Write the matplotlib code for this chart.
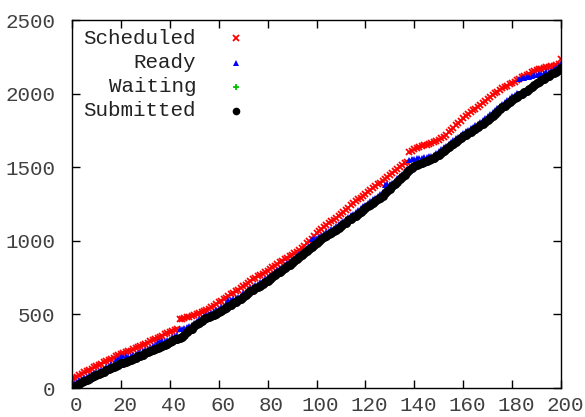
import matplotlib
matplotlib.use("Agg")
import matplotlib.pyplot as plt
from matplotlib.transforms import ScaledTranslation

# job index 0..200
jobs = list(range(201))

submitted = [
    0, 8, 18, 30, 40, 48, 55, 62, 72, 82, 90,
    96, 102, 110, 120, 130, 138, 144, 150, 158, 167,
    172, 176, 182, 190, 198, 206, 214, 220, 226, 235,
    242, 250, 258, 266, 272, 278, 284, 292, 302, 313,
    322, 330, 336, 340, 346, 360, 378, 392, 404, 420,
    432, 444, 456, 466, 474, 482, 490, 498, 506, 516,
    526, 536, 546, 556, 566, 576, 586, 596, 606, 620,
    632, 644, 656, 666, 676, 686, 696, 706, 718, 730,
    742, 754, 766, 778, 790, 802, 814, 826, 838, 850,
    862, 876, 890, 904, 918, 930, 944, 958, 972, 988,
    1000, 1012, 1024, 1034, 1044, 1054, 1064, 1076, 1088, 1100,
    1112, 1124, 1138, 1150, 1160, 1170, 1182, 1196, 1210, 1222,
    1234, 1246, 1258, 1270, 1282, 1294, 1306, 1322, 1338, 1354,
    1370, 1386, 1402, 1418, 1434, 1450, 1466, 1482, 1496, 1508,
    1516, 1522, 1528, 1534, 1540, 1546, 1554, 1562, 1574, 1586,
    1598, 1610, 1622, 1634, 1648, 1660, 1672, 1684, 1696, 1709,
    1720, 1730, 1740, 1750, 1760, 1772, 1784, 1796, 1808, 1822,
    1836, 1850, 1864, 1878, 1892, 1906, 1918, 1930, 1944, 1957,
    1968, 1980, 1990, 2000, 2010, 2020, 2030, 2042, 2056, 2070,
    2080, 2090, 2100, 2110, 2120, 2130, 2140, 2150, 2162, 2175,
]

waiting = [
    8, 16, 27, 39, 49, 57, 64, 71, 81, 91, 99,
    105, 111, 120, 130, 140, 147, 153, 160, 168, 177,
    181, 186, 192, 200, 208, 216, 223, 229, 236, 245,
    252, 260, 268, 276, 282, 288, 294, 302, 312, 323,
    332, 340, 346, 352, 360, 372, 388, 402, 414, 430,
    442, 454, 466, 476, 484, 492, 500, 508, 516, 526,
    536, 546, 556, 566, 576, 586, 596, 606, 616, 630,
    642, 654, 666, 676, 686, 696, 706, 716, 728, 740,
    752, 764, 776, 788, 800, 812, 824, 836, 848, 860,
    872, 886, 900, 914, 928, 940, 954, 968, 982, 998,
    1010, 1022, 1034, 1044, 1054, 1064, 1074, 1086, 1098, 1110,
    1122, 1134, 1148, 1160, 1170, 1180, 1192, 1206, 1220, 1232,
    1244, 1256, 1268, 1280, 1292, 1304, 1316, 1332, 1348, 1364,
    1380, 1396, 1412, 1428, 1444, 1460, 1476, 1492, 1506, 1518,
    1526, 1532, 1538, 1544, 1550, 1556, 1564, 1572, 1584, 1596,
    1608, 1620, 1632, 1644, 1658, 1670, 1682, 1694, 1706, 1719,
    1730, 1740, 1750, 1760, 1770, 1782, 1794, 1806, 1818, 1832,
    1846, 1860, 1874, 1888, 1902, 1916, 1928, 1940, 1954, 1967,
    1978, 1990, 2000, 2010, 2020, 2030, 2040, 2052, 2066, 2080,
    2090, 2100, 2110, 2120, 2130, 2140, 2150, 2160, 2172, 2185,
]

ready = [
    30, 36, 44, 54, 62, 70, 76, 84, 94, 104, 112,
    118, 124, 132, 142, 152, 160, 166, 190, 200, 208,
    212, 214, 208, 214, 222, 230, 238, 244, 250, 258,
    266, 274, 282, 290, 310, 314, 316, 320, 326, 336,
    346, 354, 360, 400, 404, 408, 412, 418, 428, 442,
    454, 466, 478, 488, 496, 504, 512, 520, 528, 538,
    548, 558, 570, 596, 600, 604, 610, 618, 628, 642,
    654, 666, 678, 688, 698, 708, 718, 728, 740, 752,
    764, 776, 788, 800, 812, 824, 836, 848, 860, 872,
    884, 898, 912, 926, 940, 952, 966, 1010, 1014, 1018,
    1024, 1036, 1048, 1058, 1068, 1078, 1088, 1100, 1112, 1124,
    1136, 1148, 1162, 1174, 1184, 1194, 1206, 1220, 1234, 1246,
    1258, 1270, 1282, 1294, 1306, 1318, 1330, 1380, 1384, 1388,
    1396, 1408, 1424, 1440, 1456, 1472, 1488, 1550, 1554, 1558,
    1560, 1562, 1564, 1566, 1570, 1574, 1578, 1582, 1598, 1610,
    1622, 1634, 1646, 1658, 1672, 1684, 1696, 1708, 1720, 1733,
    1744, 1754, 1764, 1774, 1784, 1796, 1808, 1820, 1832, 1846,
    1860, 1874, 1888, 1902, 1916, 1930, 1942, 1954, 1968, 1981,
    1992, 2004, 2100, 2104, 2108, 2112, 2116, 2120, 2124, 2128,
    2132, 2136, 2140, 2144, 2148, 2154, 2164, 2174, 2186, 2199,
]

scheduled = [
    68, 70, 76, 86, 96, 106, 114, 122, 132, 142, 150,
    158, 166, 174, 182, 190, 198, 206, 214, 224, 234,
    240, 244, 248, 254, 262, 270, 278, 286, 292, 300,
    308, 316, 324, 332, 340, 348, 356, 364, 372, 380,
    388, 394, 400, 468, 472, 476, 480, 484, 488, 493,
    500, 508, 516, 524, 532, 540, 550, 560, 572, 583,
    594, 604, 614, 624, 636, 648, 658, 668, 678, 690,
    702, 714, 726, 738, 748, 758, 766, 776, 786, 797,
    808, 820, 832, 844, 856, 866, 876, 886, 894, 904,
    914, 926, 940, 954, 968, 982, 996, 1012, 1030, 1050,
    1066, 1080, 1094, 1108, 1120, 1132, 1144, 1156, 1170, 1184,
    1198, 1212, 1226, 1240, 1254, 1268, 1282, 1294, 1306, 1318,
    1330, 1342, 1356, 1370, 1384, 1396, 1408, 1420, 1434, 1448,
    1462, 1476, 1490, 1502, 1514, 1526, 1536, 1600, 1612, 1622,
    1630, 1636, 1642, 1648, 1654, 1660, 1666, 1672, 1678, 1686,
    1696, 1708, 1722, 1736, 1752, 1768, 1784, 1800, 1816, 1832,
    1848, 1862, 1874, 1886, 1898, 1910, 1922, 1934, 1948, 1962,
    1976, 1990, 2002, 2014, 2026, 2036, 2044, 2052, 2062, 2072,
    2082, 2092, 2102, 2112, 2120, 2128, 2136, 2144, 2152, 2160,
    2166, 2170, 2174, 2178, 2182, 2186, 2190, 2196, 2204, 2235,
]

labels = ["Scheduled", "Ready", "Waiting", "Submitted"]

fig = plt.figure(figsize=(5.85, 4.17), dpi=100)
ax = fig.add_axes([72 / 585, 1 - 388 / 417, 489 / 585, 368 / 417])

ax.plot(jobs, scheduled, ls="none", marker="x", ms=5, mew=1.3, color="#ff0000")
ax.plot(jobs, ready, ls="none", marker="^", ms=4, mew=0, color="#0000ff")
ax.plot(jobs, waiting, ls="none", marker="+", ms=4, mew=1.0, color="#00c000")
ax.plot(jobs, submitted, ls="none", marker="o", ms=6.5, mew=0, color="#000000")

ax.set_xlim(0, 200)
ax.set_ylim(0, 2500)
ax.set_xticks(range(0, 201, 20))
ax.set_yticks(range(0, 2501, 500))

for s in ax.spines.values():
    s.set_linewidth(1.0)
ax.tick_params(direction="in", length=6, width=1, top=True, right=True,
               labelsize=15, labelcolor="#404040")
ax.tick_params(axis="x", pad=6)
ax.tick_params(axis="y", pad=12)
shift = ScaledTranslation(4 / 100, 0, fig.dpi_scale_trans)
for t in ax.get_xticklabels():
    t.set_fontfamily("Liberation Mono")
    t.set_transform(t.get_transform() + shift)
for t in ax.get_yticklabels():
    t.set_fontfamily("Liberation Mono")

# gnuplot style key: label right-aligned, marker after it
key_markers = [("x", "#ff0000", 5, 1.3), ("^", "#0000ff", 4, 0),
               ("+", "#00c000", 5, 1.3), ("o", "#000000", 5.5, 0)]
key_y = [0.951, 0.884, 0.818, 0.753]
for lab, (m, c, ms, mew), y in zip(labels, key_markers, key_y):
    ax.text(0.2536, y, lab, transform=ax.transAxes, ha="right", va="center",
            fontsize=15, family="Liberation Mono", color="#222222")
    ax.plot([0.3354], [y], transform=ax.transAxes, ls="none", marker=m,
            ms=ms, mew=mew, color=c, clip_on=False)

fig.savefig("out.png", dpi=100, facecolor="white")
